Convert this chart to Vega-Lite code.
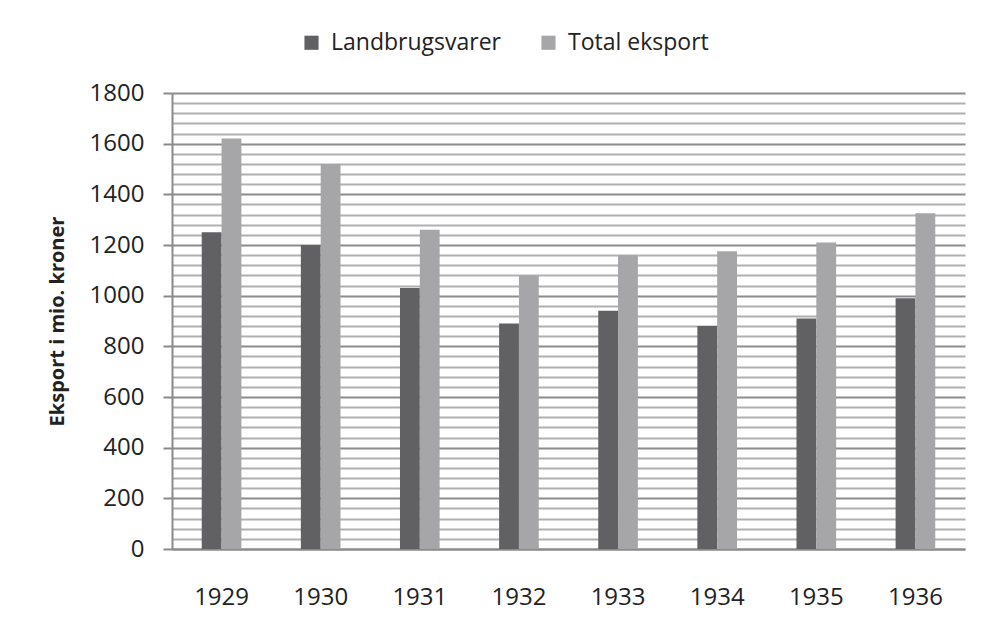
{
  "$schema": "https://vega.github.io/schema/vega-lite/v6.json",
  "autosize": {"type": "none"},
  "width": 793,
  "height": 456,
  "padding": {"left": 172, "top": 93, "right": 18, "bottom": 74},
  "background": "white",
  "config": {
    "view": {"stroke": null},
    "font": "Open Sans",
    "axis": {"labelFont": "Open Sans", "titleFont": "Open Sans", "labelColor": "#222", "titleColor": "#222"}
  },
  "data": {
    "values": [
      {"year": "1929", "serie": "Landbrugsvarer", "value": 1250},
      {"year": "1929", "serie": "Total eksport", "value": 1620},
      {"year": "1930", "serie": "Landbrugsvarer", "value": 1200},
      {"year": "1930", "serie": "Total eksport", "value": 1520},
      {"year": "1931", "serie": "Landbrugsvarer", "value": 1030},
      {"year": "1931", "serie": "Total eksport", "value": 1260},
      {"year": "1932", "serie": "Landbrugsvarer", "value": 890},
      {"year": "1932", "serie": "Total eksport", "value": 1080},
      {"year": "1933", "serie": "Landbrugsvarer", "value": 940},
      {"year": "1933", "serie": "Total eksport", "value": 1160},
      {"year": "1934", "serie": "Landbrugsvarer", "value": 880},
      {"year": "1934", "serie": "Total eksport", "value": 1175},
      {"year": "1935", "serie": "Landbrugsvarer", "value": 910},
      {"year": "1935", "serie": "Total eksport", "value": 1210},
      {"year": "1936", "serie": "Landbrugsvarer", "value": 990},
      {"year": "1936", "serie": "Total eksport", "value": 1325}
    ]
  },
  "mark": {"type": "bar"},
  "encoding": {
    "x": {
      "field": "year",
      "type": "nominal",
      "scale": {"paddingInner": 0.6, "paddingOuter": 0.3},
      "axis": {
        "title": null,
        "labelAngle": 0,
        "labelFontSize": 24,
        "labelPadding": 36,
        "ticks": false,
        "domainColor": "#8a8a8a",
        "domainWidth": 2,
        "grid": false
      }
    },
    "xOffset": {"field": "serie", "type": "nominal", "scale": {"paddingInner": 0, "paddingOuter": 0}},
    "y": {
      "field": "value",
      "type": "quantitative",
      "scale": {"domain": [0, 1800], "nice": false},
      "axis": {
        "title": "Eksport i mio. kroner",
        "titleFontSize": 20,
        "titleFontWeight": "bold",
        "titlePadding": 22,
        "format": "d",
        "values": [0, 40, 80, 120, 160, 200, 240, 280, 320, 360, 400, 440, 480, 520, 560, 600, 640, 680, 720, 760, 800, 840, 880, 920, 960, 1000, 1040, 1080, 1120, 1160, 1200, 1240, 1280, 1320, 1360, 1400, 1440, 1480, 1520, 1560, 1600, 1640, 1680, 1720, 1760, 1800],
        "labelExpr": "datum.value % 200 === 0 ? datum.label : ''",
        "labelFontSize": 24,
        "labelPadding": 19,
        "tickSize": 9,
        "tickColor": "#8a8a8a",
        "tickWidth": 2,
        "tickOpacity": {"condition": {"test": "datum.value % 200 === 0", "value": 1}, "value": 0},
        "domainColor": "#8a8a8a",
        "domainWidth": 2,
        "grid": true,
        "gridWidth": 2,
        "gridColor": {"condition": {"test": "datum.value % 200 === 0", "value": "#8c8c8c"}, "value": "#b0b0b0"}
      }
    },
    "color": {
      "field": "serie",
      "type": "nominal",
      "scale": {"domain": ["Landbrugsvarer", "Total eksport"], "range": ["#616163", "#a6a6a8"]},
      "legend": {
        "title": null,
        "orient": "none",
        "direction": "horizontal",
        "legendX": 128,
        "legendY": -62,
        "symbolType": "square",
        "symbolSize": 200,
        "symbolStrokeWidth": 0,
        "labelFontSize": 23,
        "labelColor": "#222",
        "labelFont": "Open Sans",
        "labelLimit": 0,
        "columnPadding": 36,
        "labelOffset": 8
      }
    }
  }
}
